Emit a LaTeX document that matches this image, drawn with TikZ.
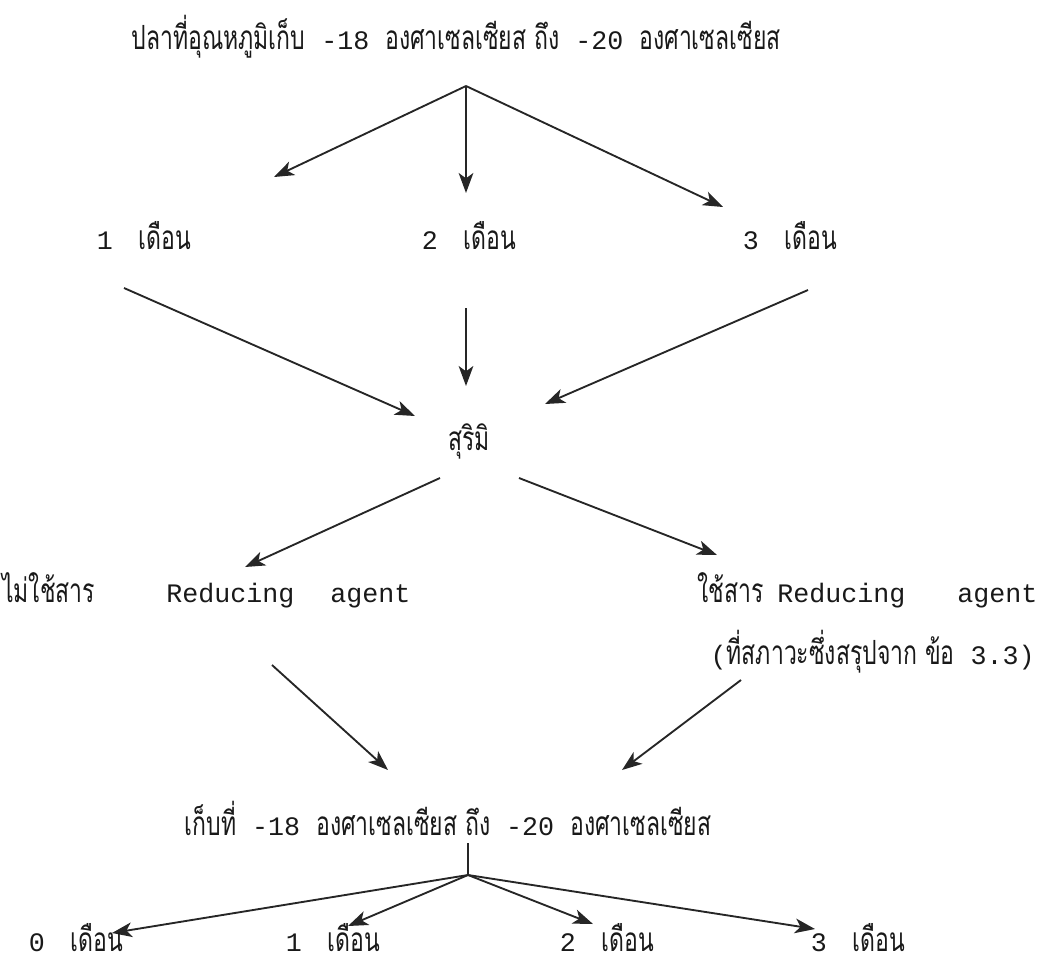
\documentclass[tikz,border=0pt]{standalone}
\usepackage{fontspec}
\setmainfont{Liberation Mono}
\newfontfamily\thai[Script=Thai,FakeStretch=0.69]{Loma}
\usetikzlibrary{arrows.meta}
\newlength{\px}\setlength{\px}{0.75pt}
\tikzset{
  lbl/.style={inner sep=0pt, font=\fontsize{20}{24}\selectfont, text=black!90},
  arr/.style={draw=black!85, line width=1.4pt, -{Stealth[length=15pt,width=11pt,inset=4pt]}},
  ln/.style={draw=black!85, line width=1.4pt}
}
\newcommand{\T}[1]{{\thai\fontsize{25}{26}\selectfont #1}}
\newcommand{\Mo}[1]{#1\hspace{26\px}\T{เดือน}}
\begin{document}
\begin{tikzpicture}[x=0.75pt,y=-0.75pt]
\useasboundingbox (0,0) rectangle (1049,964);
% top
\node[lbl] (title) at (456,37) {\T{ปลาที่อุณหภูมิเก็บ} -18 \T{องศาเซลเซียส ถึง} -20 \T{องศาเซลเซียส}};
\coordinate (h1) at (466,86);
\coordinate (t1) at (274,177);
\coordinate (t2) at (466,193);
\coordinate (t3) at (723,207);
\draw[arr] (h1) -- (t1);
\draw[arr] (h1) -- (t2);
\draw[arr] (h1) -- (t3);
\node[lbl] (m1) at (144,236) {\Mo{1}};
\node[lbl] (m2) at (469,236) {\Mo{2}};
\node[lbl] (m3) at (790,236) {\Mo{3}};
% to surimi
\coordinate (s1a) at (124,288); \coordinate (s1b) at (415,416);
\coordinate (s2a) at (466,308); \coordinate (s2b) at (466,386);
\coordinate (s3a) at (808,290); \coordinate (s3b) at (545,404);
\draw[arr] (s1a) -- (s1b);
\draw[arr] (s2a) -- (s2b);
\draw[arr] (s3a) -- (s3b);
\node[lbl] (sur) at (469,441) {\T{สุริมิ}};
\coordinate (r1a) at (440,478); \coordinate (r1b) at (245,567);
\coordinate (r2a) at (519,478); \coordinate (r2b) at (717,555);
\draw[arr] (r1a) -- (r1b);
\draw[arr] (r2a) -- (r2b);
% treatments
\node[lbl, anchor=west] (noRA) at (2,590) {\makebox[164\px][l]{\T{ไม่ใช้สาร}}Reducing\hspace{36\px}agent};
\node[lbl, anchor=west] (RA) at (697,590) {\makebox[80\px][l]{\T{ใช้สาร}}Reducing\hspace{52\px}agent};
\node[lbl, anchor=east] (cond) at (1035,652) {(\T{ที่สภาวะซึ่งสรุปจาก ข้อ} 3.3)};
\coordinate (c1a) at (272,665); \coordinate (c1b) at (388,770);
\coordinate (c2a) at (741,680); \coordinate (c2b) at (622,770);
\draw[arr] (c1a) -- (c1b);
\draw[arr] (c2a) -- (c2b);
% storage
\node[lbl] (store) at (448,818) {\T{เก็บที่} -18 \T{องศาเซลเซียส ถึง} -20 \T{องศาเซลเซียส}};
\coordinate (h2top) at (468,843);
\coordinate (h2) at (468,875);
\draw[ln] (h2top) -- (h2);
\coordinate (b0t) at (112,933);
\coordinate (b1t) at (348,926);
\coordinate (b2t) at (593,924);
\coordinate (b3t) at (815,929);
\draw[arr] (h2) -- (b0t);
\draw[arr] (h2) -- (b1t);
\draw[arr] (h2) -- (b2t);
\draw[arr] (h2) -- (b3t);
\node[lbl] (b0) at (76,938) {\Mo{0}};
\node[lbl] (b1) at (333,938) {\Mo{1}};
\node[lbl] (b2) at (607,938) {\Mo{2}};
\node[lbl] (b3) at (858,938) {\Mo{3}};
\end{tikzpicture}
\end{document}
